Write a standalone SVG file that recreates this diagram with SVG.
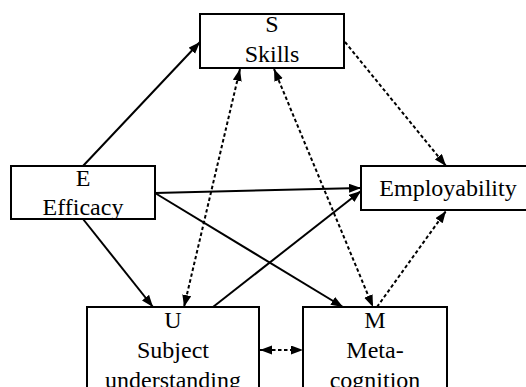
<svg xmlns="http://www.w3.org/2000/svg" width="526" height="387" viewBox="0 0 526 387">
<style>
.box{fill:#fff;stroke:#000;stroke-width:2}
.lbl{font-size:24px;fill:#000;text-anchor:middle}
.solid{stroke:#000;stroke-width:2;fill:none}
.dot{stroke:#000;stroke-width:2;fill:none;stroke-dasharray:3.5 2.5}
</style>
<defs>
<marker id="ah" markerUnits="userSpaceOnUse" markerWidth="13" markerHeight="10" refX="12" refY="4.5" orient="auto-start-reverse" viewBox="0 0 13 10">
<path d="M0,0 L12,4.5 L0,9 z" fill="#000"/>
</marker>
</defs>
<rect width="526" height="387" fill="#fff"/>
<g id="connectors">
<line class="solid" x1="83" y1="166" x2="200" y2="42" marker-end="url(#ah)"/>
<line class="solid" x1="155" y1="193" x2="361" y2="188" marker-end="url(#ah)"/>
<line class="solid" x1="155" y1="193" x2="343" y2="307" marker-end="url(#ah)"/>
<line class="solid" x1="83" y1="219" x2="153" y2="307" marker-end="url(#ah)"/>
<line class="solid" x1="213" y1="307" x2="361" y2="191" marker-end="url(#ah)"/>
<line class="dot" x1="240" y1="69" x2="184" y2="307" marker-start="url(#ah)" marker-end="url(#ah)"/>
<line class="dot" x1="274" y1="69" x2="373" y2="307" marker-start="url(#ah)" marker-end="url(#ah)"/>
<line class="dot" x1="345" y1="42" x2="446" y2="166" marker-end="url(#ah)"/>
<line class="dot" x1="377" y1="307" x2="446" y2="211" marker-end="url(#ah)"/>
<line class="dot" x1="260" y1="350" x2="303" y2="350" marker-start="url(#ah)" marker-end="url(#ah)"/>
</g>
<g font-family="'Liberation Serif', 'Times New Roman', 'DejaVu Serif', serif">
<g id="S">
<rect class="box" x="200" y="14" width="144" height="54"/>
<text class="lbl" x="272" y="32">S</text>
<text class="lbl" x="272" y="62">Skills</text>
</g>
<g id="E">
<rect class="box" x="11" y="166" width="144" height="53"/>
<text class="lbl" x="83" y="186">E</text>
<text class="lbl" x="83" y="215">Efficacy</text>
</g>
<g id="Employability">
<rect class="box" x="361" y="166" width="175" height="44"/>
<text class="lbl" x="448" y="196">Employability</text>
</g>
<g id="U">
<rect class="box" x="87" y="307" width="172" height="100"/>
<text class="lbl" x="173" y="328">U</text>
<text class="lbl" x="173" y="358">Subject</text>
<text class="lbl" x="173" y="388">understanding</text>
</g>
<g id="M">
<rect class="box" x="303" y="307" width="144" height="100"/>
<text class="lbl" x="375" y="328">M</text>
<text class="lbl" x="375" y="358">Meta-</text>
<text class="lbl" x="375" y="388">cognition</text>
</g>
</g>
</svg>
